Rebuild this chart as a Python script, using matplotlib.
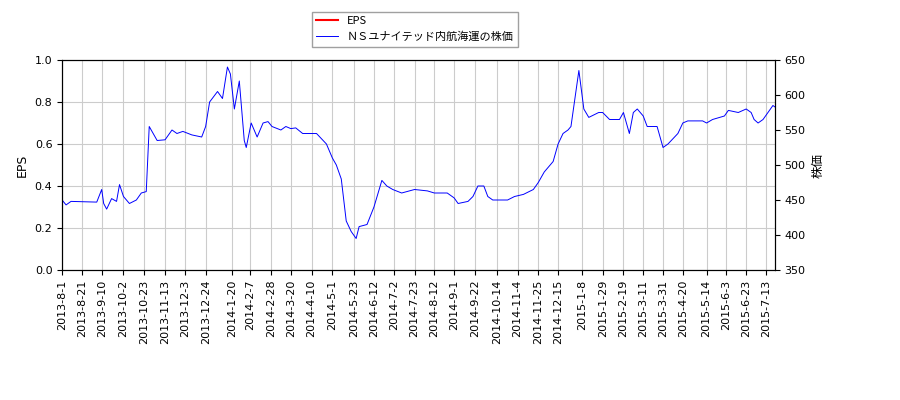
import numpy as np
import pandas as pd
import matplotlib
matplotlib.use("Agg")
import matplotlib.pyplot as plt

plt.rcParams['font.family'] = ['DejaVu Sans', 'Noto Sans CJK JP']

price_dates = ["2013-8-1", "2013-8-5", "2013-8-10", "2013-9-5", "2013-9-10", "2013-9-12", "2013-9-15",
               "2013-9-20", "2013-9-25", "2013-9-28", "2013-10-2", "2013-10-8", "2013-10-15", "2013-10-20",
               "2013-10-25", "2013-10-28", "2013-11-1", "2013-11-5", "2013-11-13", "2013-11-20", "2013-11-25",
               "2013-12-1", "2013-12-10", "2013-12-20", "2013-12-24", "2013-12-28", "2014-1-5", "2014-1-10",
               "2014-1-15", "2014-1-18", "2014-1-22", "2014-1-27", "2014-2-1", "2014-2-3", "2014-2-8",
               "2014-2-14", "2014-2-20", "2014-2-25", "2014-3-1", "2014-3-10", "2014-3-15", "2014-3-20",
               "2014-3-25", "2014-4-1", "2014-4-15", "2014-4-25", "2014-5-1", "2014-5-5", "2014-5-10",
               "2014-5-15", "2014-5-20", "2014-5-25", "2014-5-28", "2014-6-5", "2014-6-12", "2014-6-20",
               "2014-6-25", "2014-7-1", "2014-7-10", "2014-7-23", "2014-8-5", "2014-8-12", "2014-8-25",
               "2014-9-1", "2014-9-5", "2014-9-15", "2014-9-20", "2014-9-25", "2014-10-1", "2014-10-5",
               "2014-10-10", "2014-10-25", "2014-11-1", "2014-11-10", "2014-11-20", "2014-11-25", "2014-12-1",
               "2014-12-10", "2014-12-15", "2014-12-20", "2014-12-25", "2014-12-28", "2015-1-5", "2015-1-10",
               "2015-1-15", "2015-1-25", "2015-1-29", "2015-2-5", "2015-2-15", "2015-2-19", "2015-2-25",
               "2015-3-1", "2015-3-5", "2015-3-11", "2015-3-15", "2015-3-25", "2015-3-31", "2015-4-5",
               "2015-4-15", "2015-4-20", "2015-4-25", "2015-5-10", "2015-5-14", "2015-5-20", "2015-6-1",
               "2015-6-5", "2015-6-15", "2015-6-23", "2015-6-28", "2015-7-1", "2015-7-5", "2015-7-10",
               "2015-7-15", "2015-7-20", "2015-7-25"]
price_values = [450, 443, 448, 447, 465, 445, 437, 452, 448, 472, 455, 445, 450, 460, 462, 555, 545, 535,
                536, 550, 545, 548, 543, 540, 555, 590, 605, 595, 640, 630, 580, 620, 535, 525, 560, 540,
                560, 562, 555, 550, 555, 552, 553, 545, 545, 530, 510, 500, 480, 420, 405, 395, 412, 415,
                440, 478, 470, 465, 460, 465, 463, 460, 460, 453, 445, 448, 455, 470, 470, 455, 450, 450,
                455, 458, 465, 475, 490, 505, 530, 545, 550, 555, 635, 580, 568, 575, 575, 565, 565, 575,
                545, 575, 580, 570, 555, 555, 525, 530, 545, 560, 563, 563, 560, 565, 570, 578, 575, 580,
                575, 565, 560, 565, 575, 585, 580]

tick_labels = ["2013-8-1", "2013-8-21", "2013-9-10", "2013-10-2", "2013-10-23", "2013-11-13", "2013-12-3",
               "2013-12-24", "2014-1-20", "2014-2-7", "2014-2-28", "2014-3-20", "2014-4-10", "2014-5-1",
               "2014-5-23", "2014-6-12", "2014-7-2", "2014-7-23", "2014-8-12", "2014-9-1", "2014-9-22",
               "2014-10-14", "2014-11-4", "2014-11-25", "2014-12-15", "2015-1-8", "2015-1-29", "2015-2-19",
               "2015-3-11", "2015-3-31", "2015-4-20", "2015-5-14", "2015-6-3", "2015-6-23", "2015-7-13"]

dates = pd.to_datetime(price_dates)
ticks = pd.to_datetime(tick_labels)
start = pd.Timestamp("2013-8-1")
end = pd.Timestamp("2015-7-22")

fig, ax = plt.subplots(figsize=(9, 4), dpi=100)
fig.subplots_adjust(left=0.069, right=0.861, top=0.85, bottom=0.325)
ax2 = ax.twinx()

ax.plot([], [], color="red", label="EPS")
ax2.plot(dates, price_values, color="blue", lw=0.7, label="ＮＳユナイテッド内航海運の株価")

ax.set_ylim(0, 1.0)
ax.set_yticks(np.arange(0, 1.01, 0.2))
ax2.set_ylim(350, 650)
ax.set_xlim(start, end)
ax.set_xticks(ticks)
ax.set_xticklabels(tick_labels, rotation=90, fontsize=8)
ax.tick_params(labelsize=8)
ax2.tick_params(labelsize=8)
ax.grid(True, color="#cccccc")
ax.set_ylabel("EPS", fontsize=9)
ax2.set_ylabel("株価", fontsize=9, family=['Noto Sans CJK JP'])

h1, l1 = ax.get_legend_handles_labels()
h2, l2 = ax2.get_legend_handles_labels()
fig.legend(h1 + h2, l1 + l2, loc="upper left", bbox_to_anchor=(0.34, 0.985), fontsize=8,
           fancybox=False, edgecolor="#888888", prop={'family': ['Noto Sans CJK JP'], 'size': 8})

fig.savefig("out.png")
